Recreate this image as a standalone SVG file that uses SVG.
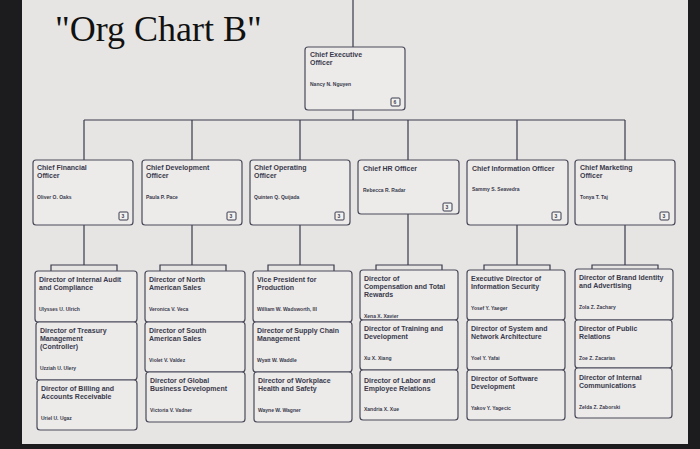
<svg xmlns="http://www.w3.org/2000/svg" width="700" height="449" viewBox="0 0 700 449">
<style>
.b{fill:#ecebea;stroke:#4a4a5a;stroke-width:1.2}
.t{font-family:"Liberation Sans",Arial,sans-serif;font-weight:bold;font-size:7px;fill:#3a3a4c}
.n{font-family:"Liberation Sans",Arial,sans-serif;font-weight:bold;font-size:5px;fill:#3a3a4c}
.k{fill:#f2f2f0;stroke:#3a3a4c;stroke-width:1}
.c{fill:none;stroke:#3a3a4c;stroke-width:1.2}
</style>
<rect width="700" height="449" fill="#1c1c1e"/>
<rect x="22" y="0" width="666" height="444" fill="#e6e5e3"/>
<text x="55" y="41" font-family="Liberation Serif,serif" font-size="36" fill="#111">"Org Chart B"</text>
<g id="connectors" class="c">
<path d="M353 0V47M353 110V120M84 120H625M84 120V160M192 120V160M300 120V160M408 120V160M517 120V160M625 120V160"/>
<path d="M84 225V265M51 271V265H117V271"/>
<path d="M192 225V265M160 271V265H226V271"/>
<path d="M300 225V265M268 271V265H334V271"/>
<path d="M408 214V265M376 271V265H442V271"/>
<path d="M517 225V265M484 270V265H550V270"/>
<path d="M625 225V265M592 269V265H658V269"/>
</g>
<g id="ceo"><rect class="b" x="305" y="47" width="100" height="63" rx="3"/>
<text class="t" x="310" y="57">Chief Executive</text><text class="t" x="310" y="65">Officer</text>
<text class="n" x="310" y="86">Nancy N. Nguyen</text>
<rect class="k" x="391" y="98" width="9" height="8" rx="1"/><text class="n" x="393.5" y="104">6</text></g>
<g id="cfo"><rect class="b" x="33" y="160" width="100" height="65" rx="3"/>
<text class="t" x="37" y="170">Chief Financial</text><text class="t" x="37" y="178">Officer</text>
<text class="n" x="37" y="199">Oliver O. Oaks</text>
<rect class="k" x="119" y="212" width="9" height="8" rx="1"/><text class="n" x="121.5" y="218">3</text></g>
<g id="cdo"><rect class="b" x="142" y="160" width="100" height="65" rx="3"/>
<text class="t" x="146" y="170">Chief Development</text><text class="t" x="146" y="178">Officer</text>
<text class="n" x="146" y="199">Paula P. Pace</text>
<rect class="k" x="227" y="212" width="9" height="8" rx="1"/><text class="n" x="229.5" y="218">3</text></g>
<g id="coo"><rect class="b" x="250" y="160" width="100" height="65" rx="3"/>
<text class="t" x="254" y="170">Chief Operating</text><text class="t" x="254" y="178">Officer</text>
<text class="n" x="254" y="199">Quinten Q. Quijada</text>
<rect class="k" x="335" y="212" width="9" height="8" rx="1"/><text class="n" x="337.5" y="218">3</text></g>
<g id="chro"><rect class="b" x="358" y="160" width="101" height="54" rx="3"/>
<text class="t" x="363" y="171">Chief HR Officer</text>
<text class="n" x="363" y="192">Rebecca R. Radar</text>
<rect class="k" x="443" y="203" width="9" height="8" rx="1"/><text class="n" x="445.5" y="209">3</text></g>
<g id="cio"><rect class="b" x="467" y="160" width="101" height="65" rx="3"/>
<text class="t" x="472" y="171">Chief Information Officer</text>
<text class="n" x="472" y="191">Sammy S. Seavedra</text>
<rect class="k" x="552" y="212" width="9" height="8" rx="1"/><text class="n" x="554.5" y="218">3</text></g>
<g id="cmo"><rect class="b" x="575" y="160" width="100" height="65" rx="3"/>
<text class="t" x="580" y="170">Chief Marketing</text><text class="t" x="580" y="178">Officer</text>
<text class="n" x="580" y="199">Tonya T. Taj</text>
<rect class="k" x="660" y="212" width="9" height="8" rx="1"/><text class="n" x="662.5" y="218">3</text></g>
<g id="d11"><rect class="b" x="35" y="271" width="102" height="51" rx="3"/><text class="t" x="39" y="282">Director of Internal Audit</text><text class="t" x="39" y="290">and Compliance</text><text class="n" x="39" y="311">Ulysses U. Ulrich</text></g>
<g id="d12"><rect class="b" x="36" y="322" width="101" height="58" rx="3"/><text class="t" x="40" y="333">Director of Treasury</text><text class="t" x="40" y="341">Management</text><text class="t" x="40" y="349">(Controller)</text><text class="n" x="40" y="370">Uzziah U. Ulery</text></g>
<g id="d13"><rect class="b" x="37" y="380" width="100" height="50" rx="3"/><text class="t" x="41" y="391">Director of Billing and</text><text class="t" x="41" y="399">Accounts Receivable</text><text class="n" x="41" y="420">Uriel U. Ugaz</text></g>
<g id="d21"><rect class="b" x="145" y="271" width="100" height="51" rx="3"/><text class="t" x="149" y="282">Director of North</text><text class="t" x="149" y="290">American Sales</text><text class="n" x="149" y="311">Veronica V. Veca</text></g>
<g id="d22"><rect class="b" x="145" y="322" width="100" height="50" rx="3"/><text class="t" x="149" y="333">Director of South</text><text class="t" x="149" y="341">American Sales</text><text class="n" x="149" y="362">Violet V. Valdez</text></g>
<g id="d23"><rect class="b" x="146" y="372" width="99" height="50" rx="3"/><text class="t" x="150" y="383">Director of Global</text><text class="t" x="150" y="391">Business Development</text><text class="n" x="150" y="412">Victoria V. Vadner</text></g>
<g id="d31"><rect class="b" x="253" y="271" width="99" height="51" rx="3"/><text class="t" x="257" y="282">Vice President for</text><text class="t" x="257" y="290">Production</text><text class="n" x="257" y="311">William W. Wadsworth, III</text></g>
<g id="d32"><rect class="b" x="253" y="322" width="99" height="50" rx="3"/><text class="t" x="257" y="333">Director of Supply Chain</text><text class="t" x="257" y="341">Management</text><text class="n" x="257" y="362">Wyatt W. Waddle</text></g>
<g id="d33"><rect class="b" x="254" y="372" width="98" height="50" rx="3"/><text class="t" x="258" y="383">Director of Workplace</text><text class="t" x="258" y="391">Health and Safety</text><text class="n" x="258" y="412">Wayne W. Wagner</text></g>
<g id="d41"><rect class="b" x="360" y="270" width="98" height="50" rx="3"/><text class="t" x="364" y="281">Director of</text><text class="t" x="364" y="289">Compensation and Total</text><text class="t" x="364" y="297">Rewards</text><text class="n" x="364" y="318">Xena X. Xavier</text></g>
<g id="d42"><rect class="b" x="360" y="320" width="98" height="50" rx="3"/><text class="t" x="364" y="331">Director of Training and</text><text class="t" x="364" y="339">Development</text><text class="n" x="364" y="360">Xu X. Xiang</text></g>
<g id="d43"><rect class="b" x="360" y="370" width="98" height="50" rx="3"/><text class="t" x="364" y="383">Director of Labor and</text><text class="t" x="364" y="391">Employee Relations</text><text class="n" x="364" y="411">Xandria X. Xue</text></g>
<g id="d51"><rect class="b" x="467" y="270" width="98" height="50" rx="3"/><text class="t" x="471" y="281">Executive Director of</text><text class="t" x="471" y="289">Information Security</text><text class="n" x="471" y="310">Yosef Y. Yaeger</text></g>
<g id="d52"><rect class="b" x="467" y="320" width="98" height="50" rx="3"/><text class="t" x="471" y="331">Director of System and</text><text class="t" x="471" y="339">Network Architecture</text><text class="n" x="471" y="360">Yoel Y. Yafai</text></g>
<g id="d53"><rect class="b" x="467" y="370" width="98" height="50" rx="3"/><text class="t" x="471" y="381">Director of Software</text><text class="t" x="471" y="389">Development</text><text class="n" x="471" y="410">Yakov Y. Yagecic</text></g>
<g id="d61"><rect class="b" x="575" y="269" width="98" height="51" rx="3"/><text class="t" x="579" y="280">Director of Brand Identity</text><text class="t" x="579" y="288">and Advertising</text><text class="n" x="579" y="309">Zola Z. Zachary</text></g>
<g id="d62"><rect class="b" x="575" y="320" width="97" height="48" rx="3"/><text class="t" x="579" y="331">Director of Public</text><text class="t" x="579" y="339">Relations</text><text class="n" x="579" y="360">Zoe Z. Zacarias</text></g>
<g id="d63"><rect class="b" x="575" y="368" width="97" height="50" rx="3"/><text class="t" x="579" y="380">Director of Internal</text><text class="t" x="579" y="388">Communications</text><text class="n" x="579" y="409">Zelda Z. Zaborski</text></g>
</svg>
